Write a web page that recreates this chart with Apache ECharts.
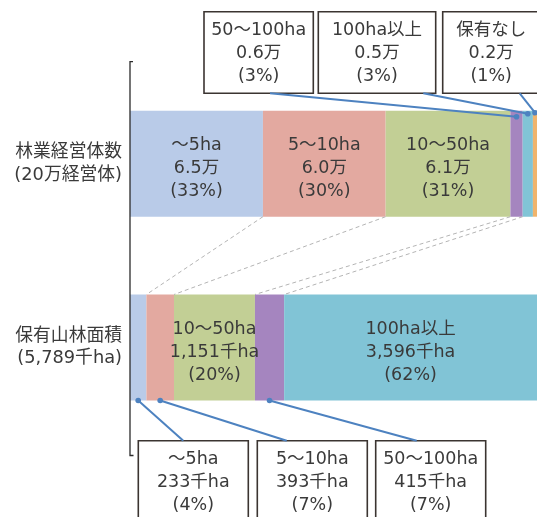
<!DOCTYPE html>
<html><head><meta charset="utf-8">
<script src="https://cdn.jsdelivr.net/npm/echarts@6/dist/echarts.min.js"></script>
<style>html,body{margin:0;padding:0;background:#fff}#c{width:537px;height:517px}</style>
</head><body><div id="c"></div>
<script>
// ---- data ----
const categories = ['林業経営体数\n(20万経営体)', '保有山林面積\n(5,789千ha)'];
const segNames = ['～5ha', '5～10ha', '10～50ha', '50～100ha', '100ha以上', '保有なし'];
const entityCounts = [6.5, 6.0, 6.1, 0.6, 0.5, 0.2];   // 万経営体
const entityPct = [33, 30, 31, 3, 3, 1];
const forestArea = [233, 393, 1151, 415, 3596, 0];     // 千ha
const forestPct = [4, 7, 20, 7, 62, null];

// ---- style ----
const colors = ['#b9cbe8', '#e3a9a0', '#c2cf95', '#a585bf', '#81c4d6', '#f0b46c'];
const topInside = [true, true, true, false, false, false];
const botInside = [false, false, true, false, true, false];
const FONT = '"DejaVu Sans", "Noto Sans CJK JP", sans-serif';
const TXT = '#3a3a3a';
const FS = 17.5;
const BAR_W = 106;

const topText = i => `${segNames[i]}\n${entityCounts[i].toFixed(1)}万\n(${entityPct[i]}%)`;
const botText = i => `${segNames[i]}\n${forestArea[i].toLocaleString('en-US')}千ha\n(${forestPct[i]}%)`;

const sum = a => a.reduce((s, v) => s + v, 0);
const topShare = entityCounts.map(v => v / sum(entityCounts) * 100);
const botShare = forestArea.map(v => v / sum(forestArea) * 100);

const chart = echarts.init(document.getElementById('c'));
chart.setOption({
  animation: false,
  grid: { left: 130, right: -2, top: 71.8, bottom: 77.6 },
  xAxis: { type: 'value', min: 0, max: 100, show: false },
  yAxis: {
    type: 'category', inverse: true, data: categories,
    axisLine: { show: false }, axisTick: { show: false },
    axisLabel: { fontSize: 17.8, lineHeight: 22.5, margin: 8, color: TXT, fontFamily: FONT, padding: [0, 0, 6, 0] }
  },
  series: segNames.map((n, i) => ({
    type: 'bar', name: n, stack: 'all', barWidth: BAR_W,
    itemStyle: { color: colors[i] },
    emphasis: { disabled: true },
    label: {
      position: 'inside', offset: [0, 5], fontSize: FS, lineHeight: 23,
      color: TXT, fontFamily: FONT,
      formatter: p => p.dataIndex === 0 ? topText(i) : botText(i)
    },
    data: [
      { value: topShare[i], label: { show: topInside[i] } },
      { value: botShare[i], label: { show: botInside[i] } }
    ]
  }))
});

// ---- callouts & connectors ----
const half = BAR_W / 2;
function px(v, cat) { return chart.convertToPixel({ xAxisIndex: 0, yAxisIndex: 0 }, [v, cat]); }
function cum(arr, k) { let s = 0; for (let j = 0; j < k; j++) s += arr[j]; return s; }

const topCallouts = [
  { seg: 3, box: [204, 11.7, 109.3, 81.6], ax: 66, dy: 6 },
  { seg: 4, box: [318.3, 11.7, 117.4, 81.6], ax: 105, dy: 3 },
  { seg: 5, box: [442.7, 11.7, 97, 81.6], ax: 77, dy: 2 }
];
const botCallouts = [
  { seg: 0, box: [138.3, 440.7, 110, 84], ax: 45 },
  { seg: 1, box: [257.3, 440.7, 110, 84], ax: 29.4 },
  { seg: 3, box: [375.7, 440.7, 110, 84], ax: 41 }
];
const g = [];
const LINE = '#4d82c0';
function box(b, text) {
  g.push({ type: 'rect', z: 20, shape: { x: b[0], y: b[1], width: b[2], height: b[3] },
    style: { fill: '#fff', stroke: '#3b3431', lineWidth: 1.6 } });
  g.push({ type: 'text', z: 21, style: { text: text, x: b[0] + b[2] / 2, y: b[1] + 7.5,
    align: 'center', verticalAlign: 'top', textAlign: 'center', textVerticalAlign: 'top',
    fontSize: FS, lineHeight: 23, fontFamily: FONT, fill: TXT } });
}
topCallouts.forEach(c => {
  const mid = cum(topShare, c.seg) + topShare[c.seg] / 2;
  const p = px(mid, 0);
  const dot = [p[0], p[1] - half + c.dy];
  box(c.box, topText(c.seg));
  g.push({ type: 'line', z: 22, shape: { x1: c.box[0] + c.ax, y1: c.box[1] + c.box[3], x2: dot[0], y2: dot[1] },
    style: { stroke: LINE, lineWidth: 2 } });
  g.push({ type: 'circle', z: 23, shape: { cx: dot[0], cy: dot[1], r: 2.8 }, style: { fill: LINE } });
});
botCallouts.forEach(c => {
  const mid = cum(botShare, c.seg) + botShare[c.seg] / 2;
  const p = px(mid, 1);
  const dot = [p[0], p[1] + half];
  box(c.box, botText(c.seg));
  g.push({ type: 'line', z: 22, shape: { x1: c.box[0] + c.ax, y1: c.box[1], x2: dot[0], y2: dot[1] },
    style: { stroke: LINE, lineWidth: 2 } });
  g.push({ type: 'circle', z: 23, shape: { cx: dot[0], cy: dot[1], r: 2.8 }, style: { fill: LINE } });
});
// dashed connectors between segment boundaries
for (let k = 1; k <= 4; k++) {
  const a = px(cum(topShare, k), 0), b = px(cum(botShare, k), 1);
  g.push({ type: 'line', z: 5, shape: { x1: a[0], y1: a[1] + half, x2: b[0], y2: b[1] - half },
    style: { stroke: '#b4b4b4', lineWidth: 1, lineDash: [4, 3] } });
}
// bracket axis
const x0 = px(0, 0)[0];
g.push({ type: 'polyline', z: 6, shape: { points: [[x0 + 3, 61.7], [x0, 61.7], [x0, 455.5], [x0 + 3.5, 455.5]] },
  style: { stroke: '#2b2b2b', lineWidth: 1.3, fill: null } });
chart.setOption({ graphic: g });
</script>
</body></html>
